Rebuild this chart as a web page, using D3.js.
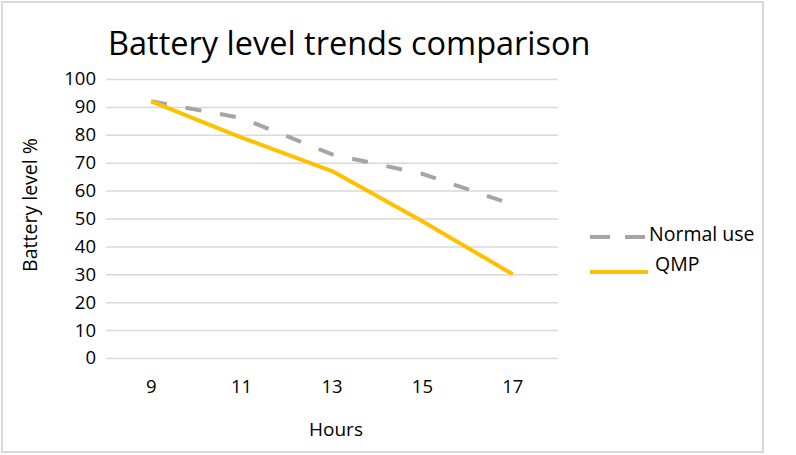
<!DOCTYPE html>
<html>
<head>
<meta charset="utf-8">
<script src="https://cdn.jsdelivr.net/npm/d3@7"></script>
<style>
  body { margin: 0; background: #fff; }
  text { font-family: "Open Sans", sans-serif; fill: #000; }
</style>
</head>
<body>
<svg width="796" height="455"></svg>
<script>
var hours = ["9", "11", "13", "15", "17"];
var normalUse = [92, 86, 73, 66, 55];
var qmp = [92, 79, 67, 49, 30];
var yTicks = [0, 10, 20, 30, 40, 50, 60, 70, 80, 90, 100];

var svg = d3.select("svg");
var width = +svg.attr("width");
var height = +svg.attr("height");

// outer frame
svg.append("rect")
    .attr("x", 2).attr("y", 2)
    .attr("width", 761).attr("height", 450)
    .attr("fill", "#fff")
    .attr("stroke", "#d9d9d9")
    .attr("stroke-width", 2);

var plotLeft = 106, plotRight = 558, plotTop = 79, plotBottom = 358;

var x = d3.scaleBand().domain(hours).range([plotLeft, plotRight]);
var y = d3.scaleLinear().domain([0, 100]).range([plotBottom, plotTop]);

// gridlines
svg.append("g")
    .attr("transform", "translate(" + plotLeft + ",0)")
    .call(d3.axisLeft(y).tickValues(yTicks).tickSize(-(plotRight - plotLeft)).tickFormat(""))
    .call(function(g) {
      g.select(".domain").remove();
      g.selectAll("line").attr("stroke", "#d9d9d9").attr("stroke-width", 1.5);
    });

// y labels
svg.append("g")
    .attr("transform", "translate(" + plotLeft + ",0)")
    .call(d3.axisLeft(y).tickValues(yTicks).tickSize(0).tickPadding(10))
    .call(function(g) {
      g.select(".domain").remove();
      g.selectAll("text").attr("font-size", 18.5).attr("font-family", "Open Sans");
    });

// x labels
svg.append("g")
    .attr("transform", "translate(0," + plotBottom + ")")
    .call(d3.axisBottom(x).tickSize(0).tickPadding(22))
    .call(function(g) {
      g.select(".domain").remove();
      g.selectAll("text").attr("font-size", 18.5).attr("font-family", "Open Sans");
    });

var line = d3.line()
    .x(function(d, i) { return x(hours[i]) + x.bandwidth() / 2; })
    .y(function(d) { return y(d); });

svg.append("path")
    .datum(normalUse)
    .attr("d", line)
    .attr("fill", "none")
    .attr("stroke", "#a5a5a5")
    .attr("stroke-width", 4)
    .attr("stroke-dasharray", "16,19");

svg.append("path")
    .datum(qmp)
    .attr("d", line)
    .attr("fill", "none")
    .attr("stroke", "#ffc000")
    .attr("stroke-width", 4)
    .attr("stroke-linejoin", "round");

// title
svg.append("text")
    .attr("x", 108).attr("y", 55)
    .attr("font-size", 32.5)
    .text("Battery level trends comparison");

// axis titles
svg.append("text")
    .attr("transform", "translate(37,205) rotate(-90)")
    .attr("text-anchor", "middle")
    .attr("font-size", 19.5)
    .text("Battery level %");

svg.append("text")
    .attr("x", 336).attr("y", 436)
    .attr("text-anchor", "middle")
    .attr("font-size", 19)
    .text("Hours");

// legend
var legend = [
  { name: "Normal use", color: "#a5a5a5", dash: "20,15", y: 237, tx: 649, ty: 241 },
  { name: "QMP", color: "#ffc000", dash: null, y: 272, tx: 655, ty: 271 }
];
legend.forEach(function(d) {
  svg.append("line")
      .attr("x1", 590).attr("x2", 648)
      .attr("y1", d.y).attr("y2", d.y)
      .attr("stroke", d.color)
      .attr("stroke-width", 4)
      .attr("stroke-dasharray", d.dash);
  svg.append("text")
      .attr("x", d.tx).attr("y", d.ty)
      .attr("font-size", 19.5)
      .text(d.name);
});
</script>
</body>
</html>
